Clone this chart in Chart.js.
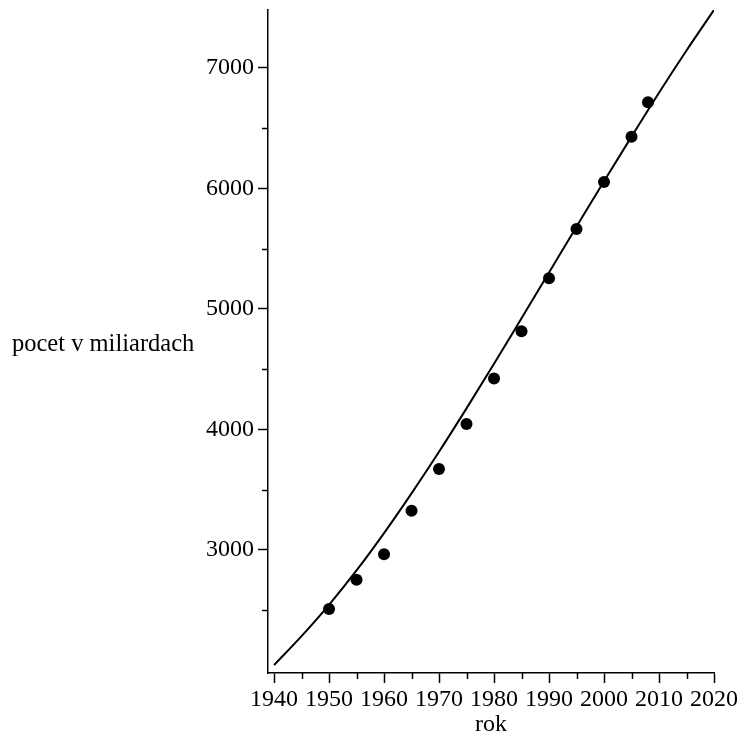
<!DOCTYPE html>
<html>
<head>
<meta charset="utf-8">
<script src="https://cdn.jsdelivr.net/npm/chart.js@4.4.1/dist/chart.umd.min.js"></script>
<style>
  html, body { margin: 0; padding: 0; background: #fff; }
  #wrap { width: 742px; height: 738px; }
</style>
</head>
<body>
<div id="wrap"><canvas id="c" width="742" height="738"></canvas></div>
<script>
// Observed data (population in millions, label says "miliardach")
const dataYears = [1950, 1955, 1960, 1965, 1970, 1975, 1980, 1985, 1990, 1995, 2000, 2005, 2008];
const dataPop   = [2510, 2752, 2965, 3326, 3671, 4046, 4422, 4815, 5254, 5663, 6053, 6430, 6715];

// Fitted curve
const curveYears = [1940, 1945, 1950, 1955, 1960, 1965, 1970, 1975, 1980, 1985, 1990, 1995, 2000, 2005, 2010, 2015, 2020];
const curvePop   = [2045, 2285, 2545, 2830, 3140, 3470, 3815, 4175, 4545, 4923, 5303, 5683, 6060, 6430, 6795, 7145, 7482];

// Tick labels
const xMajorTicks = [1940, 1950, 1960, 1970, 1980, 1990, 2000, 2010, 2020];
const xMinorTicks = [1945, 1955, 1965, 1975, 1985, 1995, 2005, 2015];
const yMajorTicks = [3000, 4000, 5000, 6000, 7000];
const yMinorTicks = [2500, 3500, 4500, 5500, 6500];

const xTitle = 'rok';
const yTitle = 'pocet v miliardach';

const FONT = '"Liberation Serif", "Times New Roman", "DejaVu Serif", serif';

const extras = {
  id: 'extras',
  afterDraw(chart) {
    const ctx = chart.ctx;
    const xs = chart.scales.x, ys = chart.scales.y;
    ctx.save();
    ctx.strokeStyle = '#000';
    ctx.lineWidth = 1.5;
    xMinorTicks.forEach(v => {
      const px = Math.round(xs.getPixelForValue(v)) + 0.5;
      ctx.beginPath();
      ctx.moveTo(px, xs.top);
      ctx.lineTo(px, xs.top + 6);
      ctx.stroke();
    });
    yMinorTicks.forEach(v => {
      const py = Math.round(ys.getPixelForValue(v)) + 0.5;
      ctx.beginPath();
      ctx.moveTo(ys.right, py);
      ctx.lineTo(ys.right - 6, py);
      ctx.stroke();
    });
    ctx.fillStyle = '#000';
    ctx.font = '24.5px ' + FONT;
    ctx.textAlign = 'left';
    ctx.textBaseline = 'middle';
    ctx.fillText(yTitle, 12, 345);
    ctx.restore();
  }
};

new Chart(document.getElementById('c'), {
  type: 'scatter',
  data: {
    datasets: [
      {
        label: 'fit',
        data: curveYears.map((x, i) => ({ x: x, y: curvePop[i] })),
        showLine: true,
        borderColor: '#000',
        borderWidth: 2,
        pointRadius: 0,
        cubicInterpolationMode: 'monotone',
        fill: false
      },
      {
        label: 'data',
        data: dataYears.map((x, i) => ({ x: x, y: dataPop[i] })),
        showLine: false,
        pointRadius: 6,
        pointBackgroundColor: '#000',
        pointBorderColor: '#000',
        pointBorderWidth: 0
      }
    ]
  },
  options: {
    responsive: false,
    animation: false,
    layout: { padding: { top: 10, right: 28, left: 0, bottom: 0 } },
    plugins: { legend: { display: false }, tooltip: { enabled: false } },
    scales: {
      x: {
        type: 'linear',
        min: 1938.9,
        max: 2020,
        afterFit(scale) { scale.height = 65; scale.paddingLeft = 0; scale.paddingRight = 0; },
        afterBuildTicks(scale) { scale.ticks = xMajorTicks.map(v => ({ value: v })); },
        grid: { display: true, drawOnChartArea: false, drawTicks: true, tickLength: 10, tickColor: '#000', tickWidth: 1.5 },
        border: { display: true, color: '#000', width: 1.5 },
        ticks: {
          color: '#000',
          font: { family: FONT, size: 24 },
          padding: 2,
          maxRotation: 0,
          autoSkip: false,
          callback: v => String(v)
        },
        title: {
          display: true,
          text: xTitle,
          color: '#000',
          font: { family: FONT, size: 24, lineHeight: 1.1 },
          padding: { top: 0, bottom: 0 }
        }
      },
      y: {
        type: 'linear',
        min: 1979,
        max: 7481,
        afterFit(scale) { scale.width = 268; scale.paddingTop = 0; scale.paddingBottom = 0; },
        afterBuildTicks(scale) { scale.ticks = yMajorTicks.map(v => ({ value: v })); },
        grid: { display: true, drawOnChartArea: false, drawTicks: true, tickLength: 10, tickColor: '#000', tickWidth: 1.5 },
        border: { display: true, color: '#000', width: 1.5 },
        ticks: {
          color: '#000',
          font: { family: FONT, size: 24 },
          padding: 4,
          autoSkip: false,
          callback: v => String(v)
        }
      }
    }
  },
  plugins: [extras]
});
</script>
</body>
</html>
